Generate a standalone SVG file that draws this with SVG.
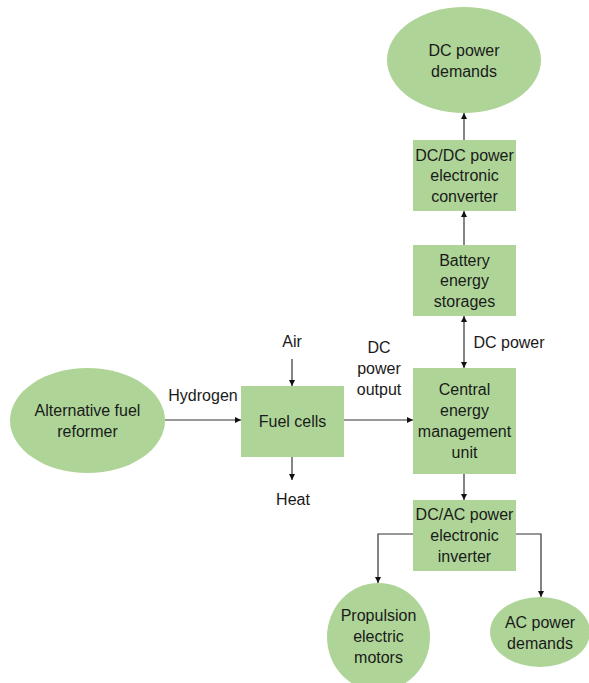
<svg xmlns="http://www.w3.org/2000/svg" width="589" height="683" viewBox="0 0 589 683">
<defs>
<marker id="ah" viewBox="0 0 10 10" refX="10" refY="5" markerWidth="6" markerHeight="6" markerUnits="userSpaceOnUse" orient="auto-start-reverse">
<path d="M0,0 L10,5 L0,10 z" fill="#111"/>
</marker>
</defs>
<style>
.n{fill:#AED597;stroke:none}
.t{font-family:"Liberation Sans",Arial,sans-serif;font-size:16px;fill:#1a1a1a;text-anchor:middle}
.c{stroke:#333;stroke-width:1.2;fill:none}
</style>
<rect width="589" height="683" fill="#fff"/>
<g id="dc-demands"><ellipse class="n" cx="464" cy="60" rx="77" ry="53"/><text class="t" x="464" y="56">DC power</text><text class="t" x="464" y="77">demands</text></g>
<g id="dcdc"><rect class="n" x="413" y="140" width="103" height="71"/><text class="t" x="464.5" y="161">DC/DC power</text><text class="t" x="464.5" y="181">electronic</text><text class="t" x="464.5" y="202">converter</text></g>
<g id="battery"><rect class="n" x="413" y="245" width="103" height="71"/><text class="t" x="464.5" y="266">Battery</text><text class="t" x="464.5" y="286">energy</text><text class="t" x="464.5" y="307">storages</text></g>
<g id="central"><rect class="n" x="413" y="368" width="103" height="106"/><text class="t" x="464.5" y="395">Central</text><text class="t" x="464.5" y="416">energy</text><text class="t" x="464.5" y="437">management</text><text class="t" x="464.5" y="458">unit</text></g>
<g id="fuelcells"><rect class="n" x="241" y="386" width="103" height="71"/><text class="t" x="292.5" y="427">Fuel cells</text></g>
<g id="reformer"><ellipse class="n" cx="87.5" cy="420.5" rx="77.5" ry="52.5"/><text class="t" x="87.5" y="416">Alternative fuel</text><text class="t" x="87.5" y="437">reformer</text></g>
<g id="dcac"><rect class="n" x="413" y="500" width="103" height="71"/><text class="t" x="464.5" y="520">DC/AC power</text><text class="t" x="464.5" y="541">electronic</text><text class="t" x="464.5" y="562">inverter</text></g>
<g id="propulsion"><ellipse class="n" cx="378.5" cy="637" rx="51.5" ry="54"/><text class="t" x="378.5" y="621">Propulsion</text><text class="t" x="378.5" y="642">electric</text><text class="t" x="378.5" y="663">motors</text></g>
<g id="ac-demands"><ellipse class="n" cx="540" cy="632" rx="50" ry="35"/><text class="t" x="540" y="628">AC power</text><text class="t" x="540" y="649">demands</text></g>
<g id="labels">
<text class="t" x="292" y="347">Air</text>
<text class="t" x="293" y="505">Heat</text>
<text class="t" x="203" y="401">Hydrogen</text>
<text class="t" x="379" y="353">DC</text>
<text class="t" x="379" y="374">power</text>
<text class="t" x="379" y="395">output</text>
<text class="t" x="509" y="348">DC power</text>
</g>
<g id="connectors">
<line class="c" x1="464" y1="140" x2="464" y2="113" marker-end="url(#ah)"/>
<line class="c" x1="464" y1="245" x2="464" y2="211" marker-end="url(#ah)"/>
<line class="c" x1="464" y1="368" x2="464" y2="316" marker-start="url(#ah)" marker-end="url(#ah)"/>
<line class="c" x1="344" y1="420" x2="413" y2="420" marker-end="url(#ah)"/>
<line class="c" x1="165" y1="420" x2="241" y2="420" marker-end="url(#ah)"/>
<line class="c" x1="292" y1="359" x2="292" y2="386" marker-end="url(#ah)"/>
<line class="c" x1="292" y1="457" x2="292" y2="480" marker-end="url(#ah)"/>
<line class="c" x1="464" y1="474" x2="464" y2="500" marker-end="url(#ah)"/>
<polyline class="c" points="413,534 378,534 378,583" marker-end="url(#ah)"/>
<polyline class="c" points="516,534 541,534 541,597" marker-end="url(#ah)"/>
</g>
</svg>
